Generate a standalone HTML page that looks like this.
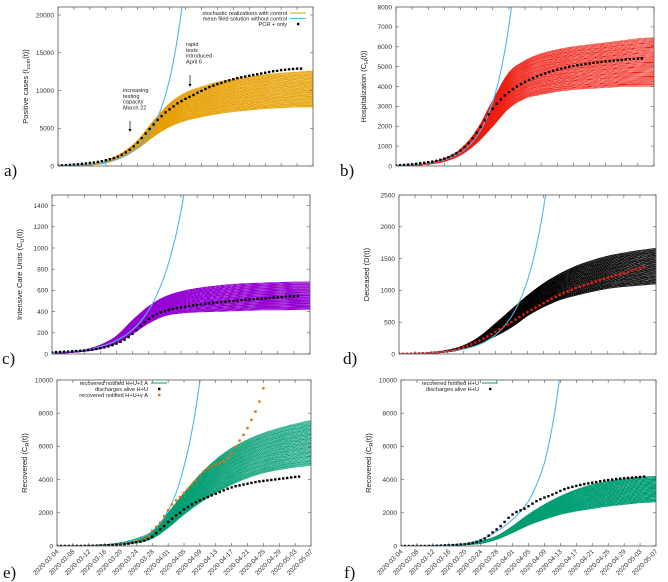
<!DOCTYPE html>
<html><head><meta charset="utf-8"><style>
html,body{margin:0;padding:0;background:#fff;}
svg{display:block;font-family:"Liberation Sans",sans-serif;}
.tl{font-size:6.5px;fill:#333;}
.yl{font-size:7.5px;fill:#222;}
.lg{font-size:5.6px;fill:#222;}
.pl{font-family:"Liberation Serif",serif;font-size:17px;fill:#111;}
</style></head><body>
<svg id="fig" width="668" height="582" viewBox="0 0 668 582"></svg>
<script>
// ---- data (day index 0 = 2020-03-04) ----
const dateLabels=["2020-03-04","2020-03-08","2020-03-12","2020-03-16","2020-03-20","2020-03-24","2020-03-28","2020-04-01","2020-04-05","2020-04-09","2020-04-13","2020-04-17","2020-04-21","2020-04-25","2020-04-29","2020-05-03","2020-05-07"];
const tickDays=[0,4,8,12,16,20,24,28,32,36,40,44,48,52,56,60,64];
const mixFractions=[0,0.02,0.04,0.05,0.07,0.09,0.1,0.12,0.14,0.16,0.18,0.2,0.21,0.23,0.25,0.27,0.29,0.3,0.32,0.34,0.36,0.38,0.4,0.41,0.43,0.45,0.47,0.49,0.5,0.52,0.54,0.56,0.58,0.6,0.61,0.63,0.65,0.67,0.69,0.7,0.72,0.74,0.76,0.78,0.8,0.81,0.83,0.85,0.87,0.89,0.9,0.92,0.94,0.96,0.98,1];

const aObs=[50,80,110,150,190,240,290,340,400,460,540,640,760,900,1050,1250,1500,1800,2150,2600,3100,3700,4300,4900,5500,6100,6600,7100,7500,7900,8300,8600,8900,9150,9400,9700,9950,10200,10450,10650,10850,11000,11200,11350,11500,11650,11750,11850,11950,12050,12150,12250,12350,12450,12550,12600,12700,12750,12800,12850,12900,12900];
const aLo=[0,40,120,400,1100,2300,3900,5200,6000,6500,6900,7200,7400,7600,7700,7800,7800];
const aHi=[0,70,220,700,1700,3400,6000,8300,9700,10500,11100,11500,11800,12100,12300,12450,12600];
const aBlue=[51,110,240,520,1130,2450,5300,11500,25000];

const bObs=[30,40,55,70,90,110,135,160,190,220,260,310,370,440,530,640,780,950,1150,1400,1680,1980,2300,2600,2880,3130,3350,3550,3720,3870,4000,4120,4230,4330,4420,4510,4590,4660,4730,4790,4850,4900,4950,4990,5030,5070,5100,5130,5160,5190,5210,5240,5260,5280,5300,5320,5340,5360,5380,5390,5400,5410];
const bLo=[0,30,90,230,550,1150,2000,2900,3400,3600,3750,3850,3900,3950,4000,4000,4000];
const bHi=[0,50,160,380,850,1800,3300,4700,5300,5650,5850,6000,6100,6200,6300,6400,6450];
const bBlue=[30,65,142,310,680,1480,3230,7060,15400];

const cObs=[15,17,19,21,23,25,27,30,33,37,42,48,55,63,72,84,98,115,135,160,190,225,265,300,330,355,375,392,405,416,425,433,440,446,452,458,463,468,473,478,482,486,490,494,498,501,505,508,511,514,517,520,523,526,529,532,535,538,541,544,547,549];
const cLo=[0,12,25,50,100,190,290,360,385,395,400,405,410,415,415,418,420];
const cHi=[0,18,40,85,170,320,450,540,590,620,640,655,665,670,675,680,680];
const cBlue=[12,22,39,70,127,230,415,750,1350,2450];

const dObs=[2,3,4,5,7,9,11,14,18,23,29,36,45,56,70,86,105,127,152,180,210,242,277,313,350,388,425,463,500,540,580,620,660,695,730,765,800,835,868,900,930,958,985,1010,1035,1058,1080,1100,1120,1140,1160,1180,1200,1220,1238,1255,1272,1290,1310,1330,1350,1368];
const dLo=[0,4,12,32,75,160,280,420,600,740,850,920,980,1030,1060,1080,1100];
const dHi=[0,8,25,60,130,270,480,700,920,1110,1260,1380,1470,1540,1590,1630,1660];
const dBlue=[5,10,20,40,77,150,300,590,1160,2300,4500];

const eObs=[0,0,0,0,0,0,0,5,10,15,20,30,40,50,60,75,90,110,140,180,220,260,320,420,560,780,1000,1200,1450,1650,1850,2000,2200,2350,2500,2640,2750,2850,2950,3050,3150,3250,3350,3450,3530,3600,3650,3700,3750,3800,3850,3890,3920,3950,3980,4010,4040,4070,4100,4130,4160,4180];
const eObs2=[0,0,0,0,0,0,0,5,10,15,20,30,40,50,60,75,100,130,170,220,280,350,440,600,900,1150,1400,1800,2150,2500,2750,2950,3200,3450,3700,3950,4250,4500,4650,4800,4900,5000,5100,5300,5600,5950,6350,6700,7100,7600,8100,8700,9500,10100,10400];
const eLo=[0,0,10,40,100,200,450,1100,1900,2600,3200,3700,4100,4400,4600,4750,4850];
const eHi=[0,0,20,80,200,450,900,2000,3200,4300,5200,5900,6400,6800,7100,7350,7550];
const eBlue=[1,3,10,40,150,400,900,2140,4800,10000,20000];

const fObs=[0,0,0,0,0,0,0,5,10,15,25,35,45,55,70,90,110,140,180,240,330,450,620,820,1000,1200,1450,1700,1900,2050,2150,2250,2400,2550,2700,2820,2920,3000,3100,3200,3320,3420,3500,3560,3620,3680,3730,3770,3810,3850,3900,3940,3970,4000,4030,4060,4080,4100,4120,4140,4160,4180];
const fLo=[0,0,10,40,80,150,400,800,1250,1600,1900,2100,2250,2400,2500,2600,2650];
const fHi=[0,0,20,60,150,300,600,1200,1900,2500,3000,3400,3700,3900,4050,4150,4200];
const fBlue=[1,3,10,40,150,400,900,1600,2700,5000,10500,16000];

const NS='http://www.w3.org/2000/svg';
const svg=document.getElementById('fig');
function mk(tag,attrs,parent){const e=document.createElementNS(NS,tag);for(const k in attrs)e.setAttribute(k,attrs[k]);(parent||svg).appendChild(e);return e;}

const panels=[
 {id:'a',L:58,R:313,T:7,B:166,ymax:21060,step:5000,lo:aLo,hi:aHi,col:'#e69f00',obs:aObs,obsCol:'#000',blue:aBlue,ylabel:'Positive cases (I',sub:'cum',ysuf:'(t))',lx:4,ly:176,dates:false},
 {id:'b',L:396,R:654,T:7,B:166,ymax:8000,step:1000,lo:bLo,hi:bHi,col:'#ee1c10',obs:bObs,obsCol:'#000',blue:bBlue,ylabel:'Hospitalization (C',sub:'H',ysuf:'(t))',lx:340,ly:176,dates:false},
 {id:'c',L:52,R:310,T:195,B:354,ymax:1500,step:200,lo:cLo,hi:cHi,col:'#9400d3',obs:cObs,obsCol:'#000',blue:cBlue,ylabel:'Intensive Care Units (C',sub:'U',ysuf:'(t))',lx:2,ly:364,dates:false},
 {id:'d',L:399,R:656,T:195,B:354,ymax:2500,step:500,lo:dLo,hi:dHi,col:'#000',obs:dObs,obsCol:'#ee1c10',blue:dBlue,ylabel:'Deceased (D(t))',sub:'',ysuf:'',lx:343,ly:364,dates:false},
 {id:'e',L:57,R:311,T:380,B:546,ymax:10000,step:2000,lo:eLo,hi:eHi,col:'#009e73',obs:eObs,obsCol:'#000',obs2:eObs2,blue:eBlue,ylabel:'Recovered (C',sub:'R',ysuf:'(t))',lx:3,ly:578,dates:true},
 {id:'f',L:401,R:656,T:380,B:546,ymax:10000,step:2000,lo:fLo,hi:fHi,col:'#009e73',obs:fObs,obsCol:'#000',blue:fBlue,ylabel:'Recovered (C',sub:'R',ysuf:'(t))',lx:344,ly:578,dates:true}
];

function catmull(arr,d){
  const i=Math.min(Math.floor(d/4),arr.length-2), t=d/4-i;
  const p0=arr[Math.max(i-1,0)],p1=arr[i],p2=arr[i+1],p3=arr[Math.min(i+2,arr.length-1)];
  let v=0.5*((2*p1)+(-p0+p2)*t+(2*p0-5*p1+4*p2-p3)*t*t+(-p0+3*p1-3*p2+p3)*t*t*t);
  const lo=Math.min(p1,p2),hi=Math.max(p1,p2);
  return Math.min(Math.max(v,lo),hi);
}

panels.forEach(p=>{
  const x=d=>p.L+d*(p.R-p.L)/64;
  const y=v=>p.B-v*(p.B-p.T)/p.ymax;
  const g=mk('g',{});
  
  
  const cp=mk('clipPath',{id:'clip'+p.id},g);
  mk('rect',{x:p.L,y:p.T,width:p.R-p.L,height:p.B-p.T},cp);
  const plot=mk('g',{'clip-path':'url(#clip'+p.id+')'},g);
  const band=mk('g',{},plot);
  
  
  mixFractions.forEach(m=>{
    let s='';
    for(let d=0;d<=64;d+=0.5){const v=catmull(p.lo,d)+m*(catmull(p.hi,d)-catmull(p.lo,d));s+=(d?'L':'M')+x(d).toFixed(1)+','+y(Math.max(v,0)).toFixed(1);}
    const pa=mk('path',{d:s,fill:'none',stroke:p.col,'stroke-width':0.6},band);
    
    
  });
  let s='';
  for(let d=0;d<=4*(p.blue.length-1);d+=0.25){
    const i=Math.min(Math.floor(d/4),p.blue.length-2),t=d/4-i;
    const v=Math.exp(Math.log(p.blue[i])*(1-t)+Math.log(p.blue[i+1])*t);
    s+=(d?'L':'M')+x(d).toFixed(1)+','+y(v).toFixed(1);
    if(v>p.ymax*1.05)break;
  }
  const bl=mk('path',{d:s,fill:'none',stroke:'#56b4e9','stroke-width':1.1},plot);
  
  
  const drawObs=(arr,col,nm)=>{
    const og=mk('g',{},plot);
    
    
    arr.forEach((v,d)=>{
      const r=mk('rect',{x:x(d)-1.2,y:y(v)-1.2,width:2.4,height:2.4,fill:col},og);
      
      
    });
  };
  if(p.obs2)drawObs(p.obs2,'#e66f00','orange-observations');
  drawObs(p.obs,p.obsCol,'observations');
  const fr=mk('rect',{x:p.L,y:p.T,width:p.R-p.L,height:p.B-p.T,fill:'none',stroke:'#555','stroke-width':0.8},g);
  
  
  for(let v=0;v<=p.ymax+1e-6;v+=p.step){
    const yy=y(v);
    mk('line',{x1:p.L,x2:p.L+3,y1:yy,y2:yy,stroke:'#555','stroke-width':0.6},g);
    mk('line',{x1:p.R,x2:p.R-3,y1:yy,y2:yy,stroke:'#555','stroke-width':0.6},g);
    const t=mk('text',{x:p.L-4,y:yy+2.3,'text-anchor':'end',class:'tl'},g);
    t.textContent=v;
    
    
  }
  tickDays.forEach((d,i)=>{
    const xx=x(d);
    mk('line',{x1:xx,x2:xx,y1:p.B,y2:p.B-3,stroke:'#555','stroke-width':0.6},g);
    mk('line',{x1:xx,x2:xx,y1:p.T,y2:p.T+3,stroke:'#555','stroke-width':0.6},g);
    if(p.dates){
      const t=mk('text',{x:xx+2,y:p.B+6,'text-anchor':'end',class:'tl',transform:'rotate(-45 '+(xx+2)+' '+(p.B+6)+')'},g);
      t.textContent=dateLabels[i];
      
      
    }
  });
  const yc=(p.T+p.B)/2, yx=p.L-30;
  const yl=mk('text',{x:yx,y:yc,'text-anchor':'middle',class:'yl',transform:'rotate(-90 '+yx+' '+yc+')'},g);
  
  
  yl.appendChild(document.createTextNode(p.ylabel));
  if(p.sub){const ts=mk('tspan',{'font-size':'5.5px',dy:'2'},yl);ts.textContent=p.sub;
    const t2=mk('tspan',{dy:'-2'},yl);t2.textContent=p.ysuf;}
  const pl=mk('text',{x:p.lx,y:p.ly,class:'pl'},g);
  pl.textContent=p.id+')';
  
  
});

function legend(x0,y0,label,kind,col,nm){
  const g=mk('g',{});
  
  
  const t=mk('text',{x:x0,y:y0+2,'text-anchor':'end',class:'lg'},g);t.textContent=label;
  if(kind==='line')mk('line',{x1:x0+3,x2:x0+19,y1:y0,y2:y0,stroke:col,'stroke-width':1},g);
  else mk('rect',{x:x0+10,y:y0-1.2,width:2.4,height:2.4,fill:col},g);
}
legend(287,13,'stochastic realizations with control','line','#e69f00','legend-entry-stochastic');
legend(287,18.5,'mean filed solution without control','line','#56b4e9','legend-entry-mean-field');
legend(287,24,'PCR + only','dot','#000','legend-entry-pcr');
legend(148,383,'recovered notified H+U+ξ A','line','#009e73','legend-entry-recovered');
legend(148,389,'discharges alive H+U','dot','#000','legend-entry-discharges');
legend(148,395,'recovered notified H+U+γ A','dot','#e66f00','legend-entry-recovered-gamma');
legend(479,383,'recovered notified H+U','line','#009e73','legend-entry-recovered-f');
legend(479,389,'discharges alive H+U','dot','#000','legend-entry-discharges-f');

function note(x0,y0,lines,ax,ay1,ay2,nm){
  const g=mk('g',{});
  
  
  lines.forEach((l,i)=>{const t=mk('text',{x:x0,y:y0+i*5.8,class:'lg'},g);t.textContent=l;});
  mk('line',{x1:ax,x2:ax,y1:ay1,y2:ay2-2,stroke:'#000','stroke-width':0.7},g);
  mk('path',{d:`M${ax-1.5},${ay2-3}L${ax+1.5},${ay2-3}L${ax},${ay2}Z`,fill:'#000'},g);
}
note(123,92,['increasing','testing','capacity','March 22'],130,121,132,'annotation-march-22');
note(186,46,['rapid','tests','introduced','April 6'],190,75,87,'annotation-april-6');
</script>
</body></html>
